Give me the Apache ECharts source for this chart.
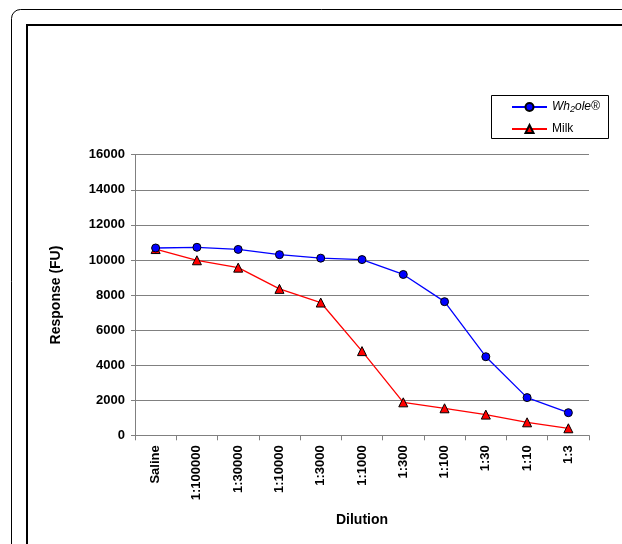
<!DOCTYPE html>
<html>
<head>
<meta charset="utf-8">
<script src="https://cdn.jsdelivr.net/npm/echarts@6/dist/echarts.min.js"></script>
<style>
html,body{margin:0;padding:0;background:#fff;}
#main{width:622px;height:544px;}
</style>
</head>
<body>
<div id="main"></div>
<script>
var categories = ['Saline','1:100000','1:30000','1:10000','1:3000','1:1000','1:300','1:100','1:30','1:10','1:3'];
var wholeValues = [10680, 10720, 10600, 10300, 10100, 10020, 9170, 7620, 4480, 2150, 1290];
var milkValues = [10620, 9980, 9560, 8350, 7570, 4800, 1880, 1540, 1180, 740, 400];
var yTicks = [0, 2000, 4000, 6000, 8000, 10000, 12000, 14000, 16000];

var chart = echarts.init(document.getElementById('main'), null, {renderer:'canvas'});
var font = 'Liberation Sans, Arial, sans-serif';
chart.setOption({
  animation: false,
  backgroundColor: '#fff',
  graphic: [
    {type:'rect', shape:{x:11.5, y:9.5, width:800, height:800, r:9}, style:{fill:'none', stroke:'#000', lineWidth:1}, z:0},
    {type:'rect', shape:{x:29, y:27, width:800, height:800}, style:{fill:'none', stroke:'#c8c8c8', lineWidth:2}, z:0},
    {type:'rect', shape:{x:27, y:25, width:800, height:800}, style:{fill:'#fff', stroke:'#000', lineWidth:2}, z:0},
    {type:'rect', shape:{x:491.5, y:95.5, width:117, height:43}, style:{fill:'#fff', stroke:'#000', lineWidth:1}, z:1}
  ],
  legend: {
    left: 506, top: 96, orient: 'vertical', itemGap: 9, itemWidth: 35, itemHeight: 10,
    data: [
      {name: 'whole'},
      {name: 'Milk'}
    ],
    formatter: function(n){ return n === 'whole' ? '{i|Wh}{s|2}{i|ole®}' : 'Milk'; },
    textStyle: {
      fontFamily: font, fontSize: 12, color: '#000',
      rich: {
        i: {fontStyle:'italic', fontFamily: font, fontSize: 12, color:'#000'},
        s: {fontStyle:'italic', fontFamily: font, fontSize: 9, color:'#000', verticalAlign:'bottom', padding:[5,0,0,0]}
      }
    }
  },
  grid: {left: 135, right: 33, top: 154.7, bottom: 108.7},
  xAxis: {
    type: 'category', data: categories,
    name: 'Dilution', nameLocation: 'middle', nameGap: 78,
    nameTextStyle: {fontFamily: font, fontSize: 14, fontWeight:'bold', color:'#000'},
    axisLine: {lineStyle:{color:'#808080', width:1}},
    axisTick: {show:true, length:5, lineStyle:{color:'#808080'}},
    axisLabel: {rotate: 90, fontFamily: font, fontSize: 13, fontWeight: 'bold', color:'#000', margin: 10, interval: 0}
  },
  yAxis: {
    type: 'value', min: 0, max: 16000, interval: 2000,
    name: 'Response (FU)', nameLocation: 'middle', nameGap: 72, nameRotate: 90,
    nameTextStyle: {fontFamily: font, fontSize: 14, fontWeight:'bold', color:'#000'},
    axisLine: {show:true, lineStyle:{color:'#808080', width:1}},
    axisTick: {show:true, length:4, lineStyle:{color:'#808080'}},
    splitLine: {show:true, lineStyle:{color:'#808080', width:1}},
    axisLabel: {fontFamily: font, fontSize: 13, fontWeight: 'bold', color:'#000', margin: 10,
      formatter: function(v){ return yTicks.indexOf(v) >= 0 ? String(v) : ''; }}
  },
  series: [
    {name:'whole', type:'line', data: wholeValues, symbol:'circle', symbolSize: 8,
     lineStyle:{color:'#0000ff', width:1.3}, itemStyle:{color:'#0000ff', borderColor:'#000', borderWidth:1}, z:3},
    {name:'Milk', type:'line', data: milkValues, symbol:'triangle', symbolSize: 9,
     lineStyle:{color:'#ff0000', width:1.3}, itemStyle:{color:'#ff0000', borderColor:'#000', borderWidth:1}, z:2}
  ]
});
</script>
</body>
</html>
